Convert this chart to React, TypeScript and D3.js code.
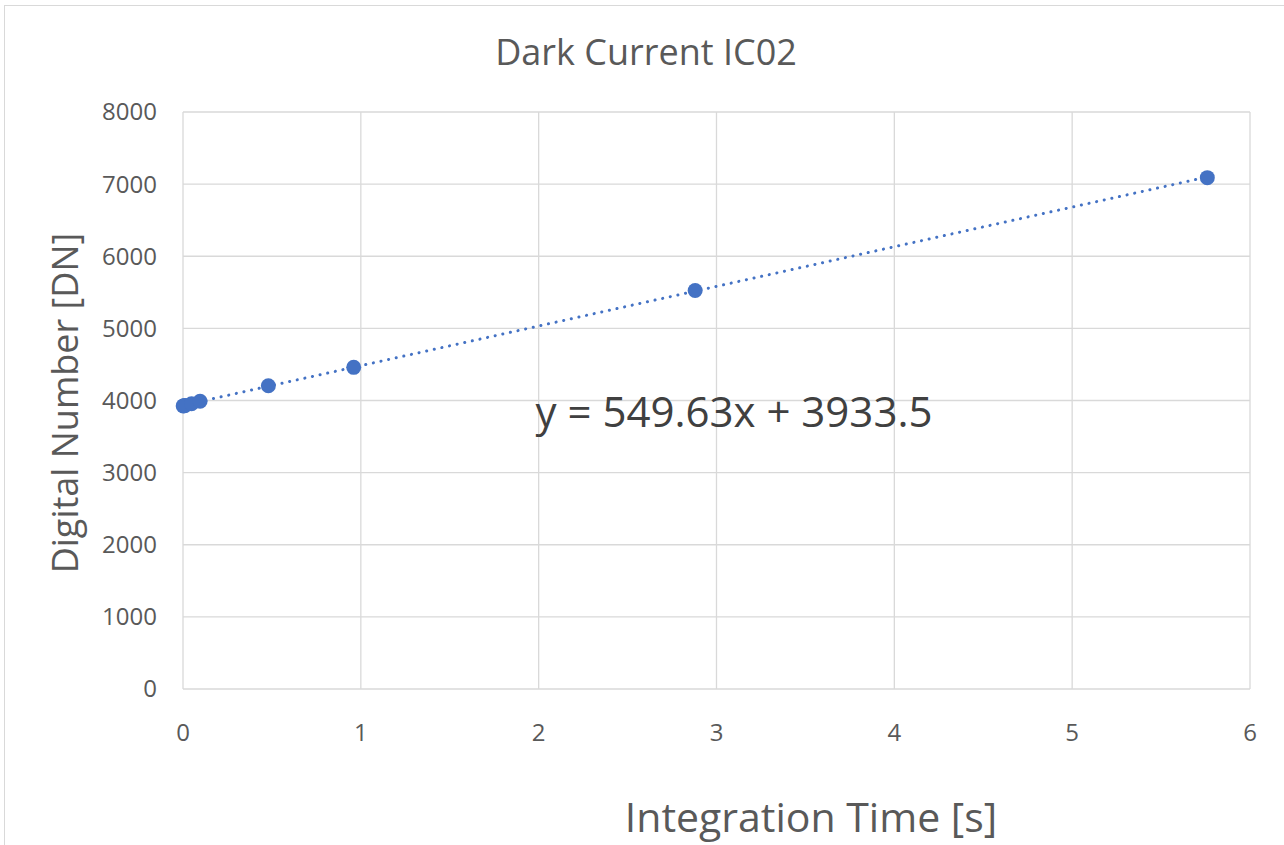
import React from "react";
import * as d3 from "d3";

const times = [0.0012, 0.006, 0.012, 0.048, 0.096, 0.48, 0.96, 2.88, 5.76];
const values = [3925, 3928, 3932, 3955, 3990, 4205, 4460, 5525, 7090];
const xTicks = [0, 1, 2, 3, 4, 5, 6];
const yTicks = [0, 1000, 2000, 3000, 4000, 5000, 6000, 7000, 8000];
const slope = 549.63;
const intercept = 3933.5;
const title = "Dark Current IC02";
const xLabel = "Integration Time [s]";
const yLabel = "Digital Number [DN]";

const W = 1284;
const H = 845;
const FONT = "'Open Sans', 'Noto Sans', sans-serif";

export default function App() {
  const x = d3.scaleLinear().domain([0, 6]).range([183, 1250]);
  const y = d3.scaleLinear().domain([0, 8000]).range([689, 112]);
  const pts = times.map((t, i) => [t, values[i]] as [number, number]);
  const trendX = [0, d3.max(times) as number];
  const line = d3
    .line<number>()
    .x((t) => x(t))
    .y((t) => y(slope * t + intercept));

  return (
    <svg
      width={W}
      height={H}
      style={{ position: "absolute", left: 0, top: 0, background: "#fff" }}
      fontFamily={FONT}
    >
      <rect x={4.5} y={5.5} width={W + 10} height={H + 10} fill="#fff" stroke="#d9d9d9" strokeWidth={1} />
      {yTicks.map((v) => (
        <line key={"gy" + v} x1={x(0)} x2={x(6)} y1={y(v)} y2={y(v)} stroke="#d9d9d9" strokeWidth={1.3} />
      ))}
      {xTicks.map((v) => (
        <line key={"gx" + v} x1={x(v)} x2={x(v)} y1={y(0)} y2={y(8000)} stroke="#d9d9d9" strokeWidth={1.3} />
      ))}
      {yTicks.map((v) => (
        <text key={"ty" + v} x={157} y={y(v)} dy="0.35em" textAnchor="end" fontSize={24} fill="#595959">
          {v}
        </text>
      ))}
      {xTicks.map((v) => (
        <text key={"tx" + v} x={x(v)} y={733} dy="0.35em" textAnchor="middle" fontSize={24} fill="#595959">
          {v}
        </text>
      ))}
      <path
        d={line(trendX) as string}
        fill="none"
        stroke="#4472C4"
        strokeWidth={3}
        strokeLinecap="round"
        strokeDasharray="0.1 7.7"
      />
      {pts.map(([t, v], i) => (
        <circle key={"p" + i} cx={x(t)} cy={y(v)} r={7.5} fill="#4472C4" />
      ))}
      <text x={734} y={412} dy="0.35em" textAnchor="middle" fontSize={42} fill="#404040">
        y = 549.63x + 3933.5
      </text>
      <text x={646} y={52} dy="0.35em" textAnchor="middle" fontSize={36} fill="#595959">
        {title}
      </text>
      <text x={811} y={818} dy="0.35em" textAnchor="middle" fontSize={41} fill="#595959">
        {xLabel}
      </text>
      <text
        transform={`translate(65,403) rotate(-90)`}
        dy="0.35em"
        textAnchor="middle"
        fontSize={36}
        fill="#595959"
      >
        {yLabel}
      </text>
    </svg>
  );
}
